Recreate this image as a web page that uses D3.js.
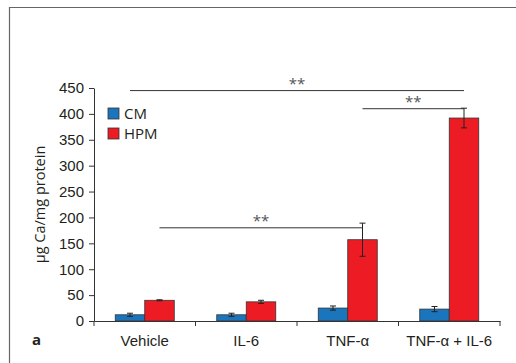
<!DOCTYPE html>
<html>
<head>
<meta charset="utf-8">
<script src="https://cdn.jsdelivr.net/npm/d3@7"></script>
<style>
  body { margin: 0; background: #fff; }
  svg { display: block; font-family: "Open Sans", sans-serif; }
</style>
</head>
<body>
<svg></svg>
<script>
// values
const groups = ['Vehicle', 'IL-6', 'TNF-\u03b1', 'TNF-\u03b1 + IL-6'];
const series = ['CM', 'HPM'];
const cmValues = [12, 12, 25, 23];
const cmErrors = [3, 3, 4, 5];
const hpmValues = [40, 37, 157, 392];
const hpmErrors = [1, 3, 32, 19];
const yTicks = [0, 50, 100, 150, 200, 250, 300, 350, 400, 450];
const colors = ['#1b75bc', '#ed1c24'];

// significance brackets: [from group, from series, to group, to series, y level]
const brackets = [
  [0, 0, 3, 1, 445],
  [2, 1, 3, 1, 410],
  [0, 1, 2, 1, 180]
];

const width = 516, height = 363;
const margin = {top: 88, right: 16, bottom: 42, left: 94};

const svg = d3.select('svg')
  .attr('width', width)
  .attr('height', height);

// page frame
svg.append('path')
  .attr('d', `M9.5,${height} V7.5 H${width}`)
  .attr('fill', 'none')
  .attr('stroke', '#666')
  .attr('stroke-width', 1.2);

const x = d3.scaleBand()
  .domain(groups)
  .range([margin.left, width - margin.right]);

const xs = d3.scaleBand()
  .domain(series)
  .range([0, x.bandwidth()])
  .paddingOuter(0.72)
  .paddingInner(0);

const y = d3.scaleLinear()
  .domain([0, 450])
  .range([height - margin.bottom, margin.top]);

const rows = groups.map((g, i) => ({
  group: g,
  vals: [
    {s: 'CM', v: cmValues[i], e: cmErrors[i]},
    {s: 'HPM', v: hpmValues[i], e: hpmErrors[i]}
  ]
}));

const barG = svg.append('g')
  .selectAll('g')
  .data(rows)
  .join('g')
  .attr('transform', d => `translate(${x(d.group)},0)`);

barG.selectAll('rect')
  .data(d => d.vals)
  .join('rect')
  .attr('x', d => xs(d.s))
  .attr('y', d => y(d.v))
  .attr('width', xs.bandwidth())
  .attr('height', d => y(0) - y(d.v))
  .attr('fill', (d, i) => colors[i])
  .attr('stroke', '#333')
  .attr('stroke-width', 0.8);

// error bars
const err = barG.selectAll('g.err')
  .data(d => d.vals)
  .join('g')
  .attr('class', 'err')
  .attr('stroke', '#222')
  .attr('stroke-width', 1);

err.append('line')
  .attr('x1', d => xs(d.s) + xs.bandwidth() / 2)
  .attr('x2', d => xs(d.s) + xs.bandwidth() / 2)
  .attr('y1', d => y(d.v + d.e))
  .attr('y2', d => y(d.v - d.e));

[1, -1].forEach(sign => {
  err.append('line')
    .attr('x1', d => xs(d.s) + xs.bandwidth() / 2 - 3)
    .attr('x2', d => xs(d.s) + xs.bandwidth() / 2 + 3)
    .attr('y1', d => y(d.v + sign * d.e))
    .attr('y2', d => y(d.v + sign * d.e));
});

// axes
const yAxis = svg.append('g')
  .attr('transform', `translate(${margin.left},0)`)
  .call(d3.axisLeft(y).tickValues(yTicks).tickSize(5).tickPadding(5).tickSizeOuter(0));

const xAxis = svg.append('g')
  .attr('transform', `translate(0,${y(0)})`)
  .call(d3.axisBottom(x).tickSize(0).tickPadding(14).tickSizeOuter(0));

xAxis.selectAll('.tick line').remove();

// category boundary ticks on the x axis
const bounds = groups.map(g => x(g)).concat([x.range()[1]]);
svg.append('g')
  .selectAll('line')
  .data(bounds)
  .join('line')
  .attr('x1', d => d)
  .attr('x2', d => d)
  .attr('y1', y(0))
  .attr('y2', y(0) + 5)
  .attr('stroke', '#333');

[yAxis, xAxis].forEach(a => {
  a.select('.domain').attr('stroke', '#333');
  a.selectAll('.tick line').attr('stroke', '#333');
  a.selectAll('text')
    .attr('fill', '#231f20')
    .style('font-size', '15px');
});

svg.append('text')
  .attr('transform', `translate(45,${(y(0) + y(450)) / 2}) rotate(-90)`)
  .attr('text-anchor', 'middle')
  .attr('fill', '#231f20')
  .style('font-size', '14.5px')
  .text('\u00b5g Ca/mg protein');

svg.append('text')
  .attr('x', 32)
  .attr('y', 345)
  .attr('fill', '#231f20')
  .style('font-size', '15px')
  .style('font-weight', 'bold')
  .text('a');

// significance brackets
const cx = (gi, si) => x(groups[gi]) + xs(series[si]) + xs.bandwidth() / 2;
const br = svg.append('g')
  .selectAll('g')
  .data(brackets)
  .join('g');

br.append('line')
  .attr('x1', d => cx(d[0], d[1]))
  .attr('x2', d => cx(d[2], d[3]))
  .attr('y1', d => y(d[4]))
  .attr('y2', d => y(d[4]))
  .attr('stroke', '#333')
  .attr('stroke-width', 1);

br.append('text')
  .attr('x', d => (cx(d[0], d[1]) + cx(d[2], d[3])) / 2)
  .attr('y', d => y(d[4]) - 2)
  .attr('text-anchor', 'middle')
  .attr('fill', '#555')
  .style('font-size', '15px')
  .style('letter-spacing', '0px')
  .text('**');

// legend
const legend = svg.append('g')
  .attr('transform', 'translate(108,108)')
  .selectAll('g')
  .data(series)
  .join('g')
  .attr('transform', (d, i) => `translate(0,${i * 20})`);

legend.append('rect')
  .attr('width', 11)
  .attr('height', 11)
  .attr('fill', (d, i) => colors[i])
  .attr('stroke', '#333')
  .attr('stroke-width', 0.8);

legend.append('text')
  .attr('x', 16)
  .attr('y', 11)
  .attr('fill', '#231f20')
  .style('font-size', '15px')
  .text(d => d);
</script>
</body>
</html>
